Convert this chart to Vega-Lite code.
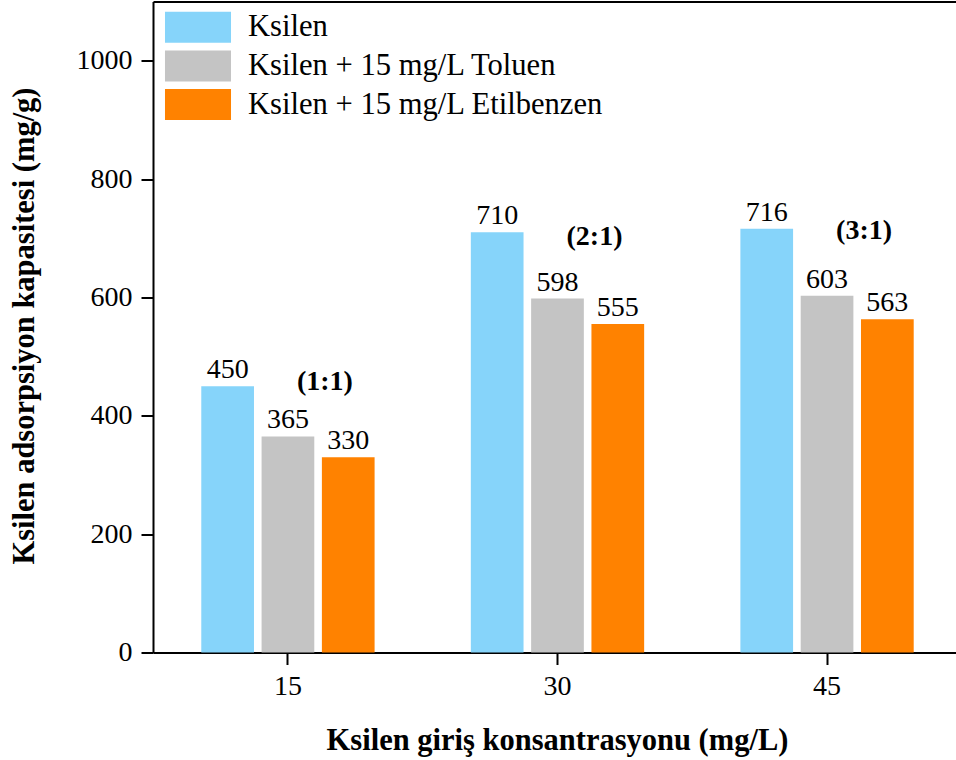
{
  "$schema": "https://vega.github.io/schema/vega-lite/v6.json",
  "width": 803,
  "height": 651,
  "autosize": "none",
  "padding": {"left": 153, "top": 1.5, "right": 0, "bottom": 107.5},
  "background": "white",
  "config": {
    "view": {"stroke": null},
    "font": "Liberation Serif",
    "axis": {
      "labelFont": "Liberation Serif",
      "titleFont": "Liberation Serif",
      "labelColor": "black",
      "titleColor": "black",
      "domainColor": "black",
      "tickColor": "black",
      "domainWidth": 2,
      "tickWidth": 2,
      "tickSize": 12,
      "grid": false,
      "labelFontSize": 28,
      "titleFontSize": 30.5,
      "titleFontWeight": "bold"
    },
    "legend": {
      "orient": "none",
      "legendX": 29.5,
      "legendY": 10.2,
      "padding": 0,
      "symbolType": "M-2.13,-1H2.13V1H-2.13Z",
      "symbolSize": 961,
      "symbolStrokeWidth": 0,
      "symbolOpacity": 1,
      "labelFont": "Liberation Serif",
      "labelFontSize": 30.6,
      "labelColor": "black",
      "labelOffset": 34.5,
      "labelLimit": 600,
      "rowPadding": 6.7
    }
  },
  "datasets": {
    "bars": [
      {"konsantrasyon": "15", "seri": "Ksilen", "kapasite": 450},
      {"konsantrasyon": "15", "seri": "Ksilen + 15 mg/L Toluen", "kapasite": 365},
      {"konsantrasyon": "15", "seri": "Ksilen + 15 mg/L Etilbenzen", "kapasite": 330},
      {"konsantrasyon": "30", "seri": "Ksilen", "kapasite": 710},
      {"konsantrasyon": "30", "seri": "Ksilen + 15 mg/L Toluen", "kapasite": 598},
      {"konsantrasyon": "30", "seri": "Ksilen + 15 mg/L Etilbenzen", "kapasite": 555},
      {"konsantrasyon": "45", "seri": "Ksilen", "kapasite": 716},
      {"konsantrasyon": "45", "seri": "Ksilen + 15 mg/L Toluen", "kapasite": 603},
      {"konsantrasyon": "45", "seri": "Ksilen + 15 mg/L Etilbenzen", "kapasite": 563}
    ],
    "oranlar": [
      {"konsantrasyon": "15", "oran": "(1:1)", "kapasite": 457},
      {"konsantrasyon": "30", "oran": "(2:1)", "kapasite": 702},
      {"konsantrasyon": "45", "oran": "(3:1)", "kapasite": 713}
    ]
  },
  "layer": [
    {
      "data": {"name": "bars"},
      "mark": {"type": "bar"},
      "encoding": {
        "x": {
          "field": "konsantrasyon",
          "type": "nominal",
          "sort": ["15", "30", "45"],
          "scale": {"paddingInner": 0.357, "paddingOuter": 0.168, "align": 0.533},
          "axis": {
            "orient": "bottom",
            "labelAngle": 0,
            "labelPadding": 8,
            "title": "Ksilen giriş konsantrasyonu (mg/L)",
            "titleBaseline": "alphabetic",
            "titleY": 97,
            "titleX": 404
          }
        },
        "xOffset": {
          "field": "seri",
          "type": "nominal",
          "sort": ["Ksilen", "Ksilen + 15 mg/L Toluen", "Ksilen + 15 mg/L Etilbenzen"],
          "scale": {"paddingInner": 0.126, "paddingOuter": 0}
        },
        "y": {
          "field": "kapasite",
          "type": "quantitative",
          "scale": {"domain": [0, 1100], "nice": false, "zero": true},
          "axis": {
            "values": [0, 200, 400, 600, 800, 1000],
            "format": "d",
            "labelPadding": 9,
            "title": "Ksilen adsorpsiyon kapasitesi (mg/g)",
            "titleAngle": -90,
            "titleBaseline": "alphabetic",
            "titleX": -120,
            "titleY": 324
          }
        },
        "color": {
          "field": "seri",
          "type": "nominal",
          "sort": ["Ksilen", "Ksilen + 15 mg/L Toluen", "Ksilen + 15 mg/L Etilbenzen"],
          "scale": {"range": ["#86D4FA", "#C4C4C4", "#FF8200"]},
          "legend": {"title": null}
        }
      }
    },
    {
      "data": {"name": "bars"},
      "mark": {"type": "text", "baseline": "alphabetic", "dy": -8, "fontSize": 28, "color": "black", "font": "Liberation Serif"},
      "encoding": {
        "x": {"field": "konsantrasyon", "type": "nominal", "sort": ["15", "30", "45"], "axis": null},
        "xOffset": {
          "field": "seri",
          "type": "nominal",
          "sort": ["Ksilen", "Ksilen + 15 mg/L Toluen", "Ksilen + 15 mg/L Etilbenzen"]
        },
        "y": {"field": "kapasite", "type": "quantitative"},
        "text": {"field": "kapasite", "type": "quantitative"}
      }
    },
    {
      "data": {"name": "oranlar"},
      "mark": {"type": "text", "baseline": "middle", "dx": 37, "fontSize": 28, "fontWeight": "bold", "color": "black", "font": "Liberation Serif"},
      "encoding": {
        "x": {
          "field": "konsantrasyon",
          "type": "nominal",
          "sort": ["15", "30", "45"],
          "axis": {"orient": "top", "labels": false, "ticks": false, "title": null, "domain": true}
        },
        "y": {"field": "kapasite", "type": "quantitative"},
        "text": {"field": "oran", "type": "nominal"}
      }
    }
  ],
  "resolve": {"axis": {"x": "independent"}}
}
